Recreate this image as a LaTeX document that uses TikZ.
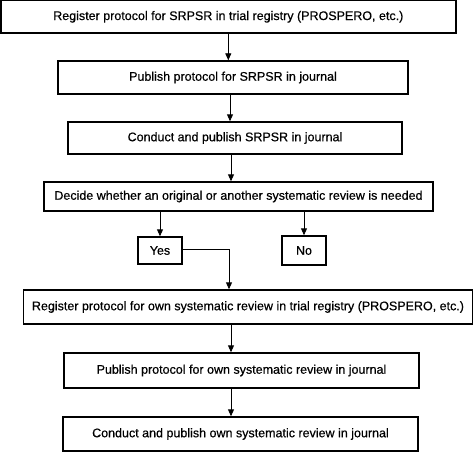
\documentclass[tikz,border=0pt]{standalone}
\usepackage{fontspec}
\setmainfont{Liberation Sans}[FakeBold=0.5]
\usetikzlibrary{arrows.meta}
\begin{document}
\begin{tikzpicture}[x=1pt,y=-1pt,
  box/.style={draw, line width=1.4pt, inner sep=0pt, align=center,
    font=\fontsize{12.5}{15}\selectfont},
  conn/.style={line width=0.9pt, -{Triangle[length=7pt,width=6pt]}}]
\useasboundingbox (0,0) rectangle (474,452);
\node[box, minimum width=455pt, minimum height=32.3pt] (b1) at (228.3,16.8) {Register protocol for SRPSR in trial registry (PROSPERO, etc.)};
\node[box, minimum width=350pt, minimum height=33pt] (b2) at (233,77.5) {Publish protocol for SRPSR in journal};
\node[box, minimum width=334pt, minimum height=32pt] (b3) at (235,138) {Conduct and publish SRPSR in journal};
\node[box, minimum width=389pt, minimum height=29pt] (b4) at (238.5,196.5) {Decide whether an original or another systematic review is needed};
\node[box, minimum width=44pt, minimum height=27pt] (yes) at (160,250.5) {Yes};
\node[box, minimum width=44pt, minimum height=29pt] (no) at (304,250.5) {No};
\node[box, minimum width=449pt, minimum height=34pt] (b5) at (248,307) {Register protocol for own systematic review in trial registry (PROSPERO, etc.)};
\node[box, minimum width=355pt, minimum height=35pt] (b6) at (241.5,370.5) {Publish protocol for own systematic review in journal};
\node[box, minimum width=355pt, minimum height=34pt] (b7) at (240.5,434) {Conduct and publish own systematic review in journal};
\coordinate (x2) at (230,0);
\coordinate (x3) at (231,0);
\coordinate (xj) at (229,0);
\draw[conn] (b1.south) -- (b1.south |- b2.north);
\draw[conn] (x2 |- b2.south) -- (x2 |- b3.north);
\draw[conn] (x3 |- b3.south) -- (x3 |- b4.north);
\draw[conn] (yes.north |- b4.south) -- (yes.north);
\draw[conn] (no.north |- b4.south) -- (no.north);
\draw[conn] ([yshift=1.5pt]yes.east) -| (xj |- b5.north);
\draw[conn] (x3 |- b5.south) -- (x3 |- b6.north);
\draw[conn] (x3 |- b6.south) -- (x3 |- b7.north);
\end{tikzpicture}
\end{document}
